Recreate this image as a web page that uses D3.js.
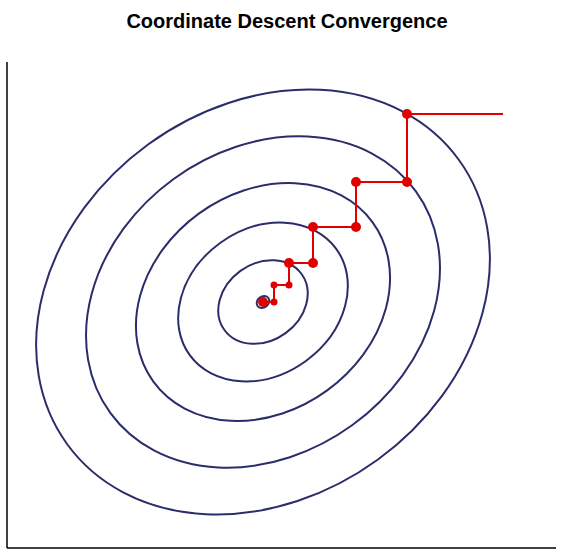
<!DOCTYPE html>
<meta charset="utf-8">
<html>
<head>
<script src="https://d3js.org/d3.v7.min.js"></script>
<style>
  body { margin: 0; background: #fff; font-family: "Liberation Sans", Arial, sans-serif; }
</style>
</head>
<body>
<script>
// contour levels (relative size of each ellipse)
var levels = [0.028, 0.197, 0.374, 0.56, 0.78, 1.0];
// ellipse semi-axes (data units) and tilt in degrees
var semiMajor = 2.42, semiMinor = 1.95, tilt = 36;
// coordinate descent path
var pathX = [2.4, 1.44, 1.44, 0.93, 0.93, 0.50, 0.50, 0.26, 0.26, 0.11, 0.11, 0];
var pathY = [1.88, 1.88, 1.20, 1.20, 0.75, 0.75, 0.39, 0.39, 0.17, 0.17, 0, 0];
// which points get dots (0 none, 1 small, 2 big)
var dotKind = [0, 2, 2, 2, 2, 2, 2, 2, 1, 1, 1, 2];

var width = 563, height = 558;
var svg = d3.select("body").append("svg").attr("width", width).attr("height", height);

var x = d3.scaleLinear().domain([-2.5, 2.5]).range([13, 513]);
var y = d3.scaleLinear().domain([-2.5, 2.5]).range([552, 52]);

svg.append("text")
  .attr("x", 287).attr("y", 28)
  .attr("text-anchor", "middle")
  .attr("font-size", "20px").attr("font-weight", "bold")
  .text("Coordinate Descent Convergence");

// axes lines
svg.append("line").attr("x1", 7).attr("y1", 62).attr("x2", 7).attr("y2", 548)
  .attr("stroke", "#000").attr("stroke-width", 1.5);
svg.append("line").attr("x1", 7).attr("y1", 548).attr("x2", 556).attr("y2", 548)
  .attr("stroke", "#000").attr("stroke-width", 1.5);

// contour ellipses
svg.selectAll("ellipse.contour")
  .data(levels)
  .enter()
  .append("ellipse")
  .attr("class", "contour")
  .attr("cx", x(0)).attr("cy", y(0))
  .attr("rx", function(d) { return (x(semiMajor * d) - x(0)); })
  .attr("ry", function(d) { return (y(0) - y(semiMinor * d)); })
  .attr("transform", "rotate(" + (-tilt) + "," + x(0) + "," + y(0) + ")")
  .attr("fill", "none")
  .attr("stroke", "#2b2d6b")
  .attr("stroke-width", 2);

var pts = pathX.map(function(d, i) { return [d, pathY[i], dotKind[i]]; });

var line = d3.line().x(function(d) { return x(d[0]); }).y(function(d) { return y(d[1]); });
svg.append("path")
  .attr("d", line(pts))
  .attr("fill", "none")
  .attr("stroke", "#e00000")
  .attr("stroke-width", 2);

svg.selectAll("circle.dot")
  .data(pts.filter(function(d) { return d[2] > 0; }))
  .enter()
  .append("circle")
  .attr("class", "dot")
  .attr("cx", function(d) { return x(d[0]); })
  .attr("cy", function(d) { return y(d[1]); })
  .attr("r", function(d) { return d[2] == 2 ? 5 : 3.5; })
  .attr("fill", "#e00000");
</script>
</body>
</html>
